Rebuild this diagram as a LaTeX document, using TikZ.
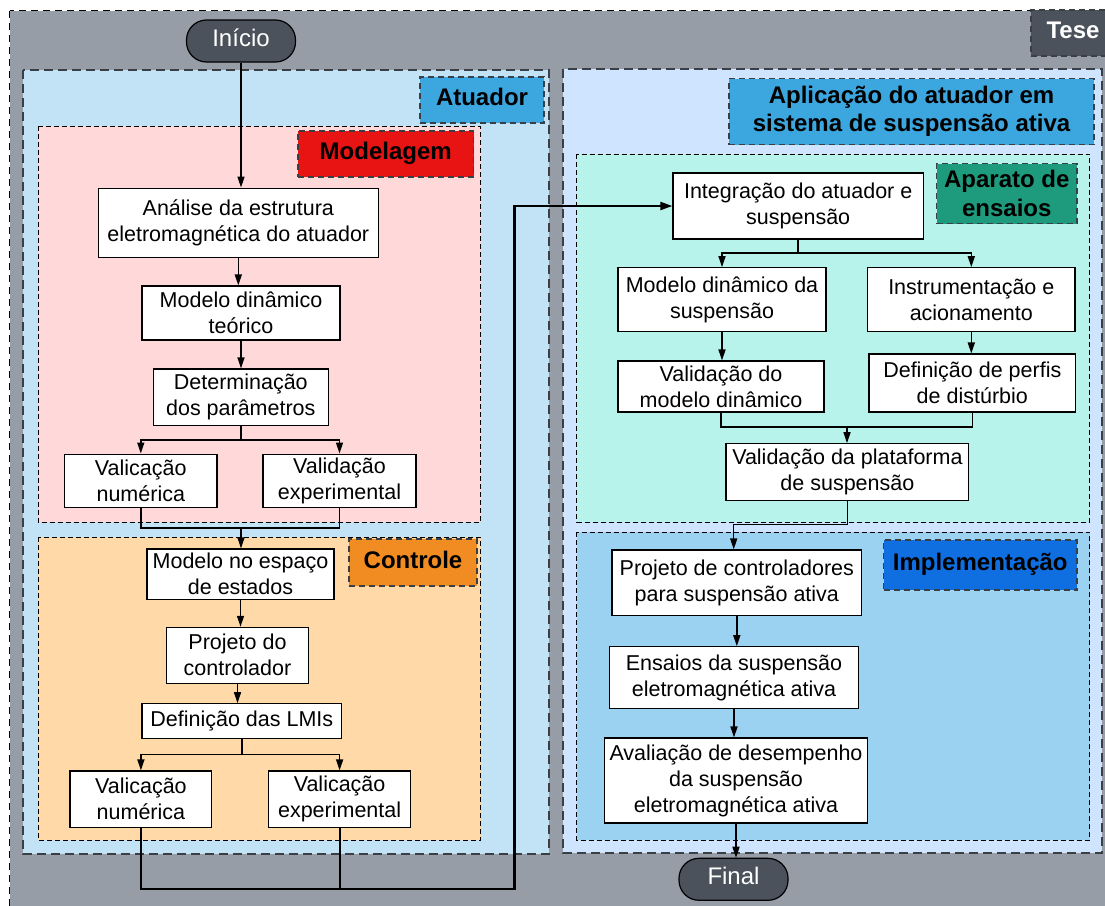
\documentclass[tikz,border=0pt]{standalone}
\usepackage{fontspec}
\setmainfont{Liberation Sans}
\usetikzlibrary{arrows.meta}

\definecolor{tesebg}{HTML}{979DA6}
\definecolor{darkpill}{HTML}{4B525C}
\definecolor{atuadorbg}{HTML}{C1E3F5}
\definecolor{bluelabel}{HTML}{3CA6DF}
\definecolor{modelbg}{HTML}{FFD9D9}
\definecolor{redlabel}{HTML}{E81313}
\definecolor{controlbg}{HTML}{FFDAA8}
\definecolor{orangelabel}{HTML}{F08C22}
\definecolor{aplicbg}{HTML}{CFE4FE}
\definecolor{aparatobg}{HTML}{B7F3EA}
\definecolor{teallabel}{HTML}{1E9A7C}
\definecolor{implbg}{HTML}{9BD2F2}
\definecolor{impllabel}{HTML}{0F6FE0}
\definecolor{dashgray}{HTML}{3A3F46}

\tikzset{
  regionouter/.style={draw=dashgray, line width=1.3pt, dash pattern=on 9pt off 5pt},
  regioninner/.style={draw=black, line width=0.9pt, dash pattern=on 5pt off 3pt},
  tag/.style={draw=dashgray, line width=1.1pt, dash pattern=on 6pt off 4pt,
    inner sep=0pt, align=center, font=\fontsize{24}{28.5}\selectfont\bfseries},
  oneline/.style={text height=16pt, text depth=5pt},
  stepbox/.style={draw=black, fill=white, line width=1.1pt, inner sep=0pt,
    align=center, font=\fontsize{21.5}{26}\selectfont},
  pill/.style={draw=black, fill=darkpill, line width=1.2pt, rounded corners=20pt,
    inner sep=0pt, text=white, font=\fontsize{24}{28}\selectfont,
    minimum width=109pt, minimum height=42pt, text height=15pt, text depth=5pt},
  arr/.style={line width=1.5pt, -{Triangle[length=11pt,width=7pt]}},
  ln/.style={line width=1.5pt},
}

\begin{document}
\begin{tikzpicture}[x=1pt,y=-1pt]
\useasboundingbox (0,0) rectangle (1105,905);
\fill[white] (0,0) rectangle (1105,905);
\begin{scope}
\clip (0,0) rectangle (1105,905);

% thesis frame
\draw[fill=tesebg, draw=black, line width=1pt, dash pattern=on 7pt off 5pt]
  (9.5,10.5) rectangle (1125,925);
\node[tag, oneline, fill=darkpill, text=white, minimum width=84pt, minimum height=46pt]
  (tese) at (1073,33) {Tese};

% actuator block
\draw[regionouter, fill=atuadorbg] (23,70) rectangle (549,854);
\node[tag, oneline, fill=bluelabel, minimum width=124pt, minimum height=46pt]
  (tagatu) at (482,100) {Atuador};
\draw[regioninner, fill=modelbg] (38,126) rectangle (480.5,522);
\node[tag, oneline, fill=redlabel, minimum width=175.5pt, minimum height=46pt]
  (tagmod) at (385.75,154) {Modelagem};
\draw[regioninner, fill=controlbg] (38,537) rectangle (480.5,840);
\node[tag, oneline, fill=orangelabel, minimum width=128pt, minimum height=47pt]
  (tagctl) at (413,562.5) {Controle};

% application block
\draw[regionouter, fill=aplicbg] (563,69) rectangle (1102,853);
\node[tag, fill=bluelabel, minimum width=365pt, minimum height=66pt]
  (tagapl) at (911.5,111.5) {Aplicação do atuador em\\sistema de suspensão ativa};
\draw[regioninner, fill=aparatobg] (576.5,154) rectangle (1089.5,522);
\node[tag, fill=teallabel, minimum width=140.5pt, minimum height=60pt]
  (tagapa) at (1006.75,193.5) {Aparato de\\ensaios};
\draw[regioninner, fill=implbg] (576.5,532) rectangle (1089.5,840);
\node[tag, oneline, fill=impllabel, minimum width=193.5pt, minimum height=50pt]
  (tagimp) at (980.25,565) {Implementação};

% start / end
\node[pill] (ini) at (241,41) {Início};
\node[pill] (fin) at (733.5,879.3) {Final};

% modelling steps
\node[stepbox, minimum width=280pt, minimum height=69pt] (ana) at (238.3,222.6)
  {Análise da estrutura\\eletromagnética do atuador};
\node[stepbox, minimum width=198pt, minimum height=54pt] (mdt) at (241,313)
  {Modelo dinâmico\\teórico};
\node[stepbox, minimum width=175pt, minimum height=56.7pt] (det) at (240.8,397.3)
  {Determinação\\dos parâmetros};
\node[stepbox, minimum width=152.4pt, minimum height=53.5pt] (vn1) at (140.8,480.8)
  {Valicação\\numérica};
\node[stepbox, minimum width=153pt, minimum height=53.5pt] (ve1) at (339.5,480.8)
  {Validação\\experimental};

% control steps
\node[stepbox, minimum width=187pt, minimum height=50.5pt] (mee) at (240.5,574.2)
  {Modelo no espaço\\de estados};
\node[stepbox, minimum width=141.6pt, minimum height=56pt] (pdc) at (237.5,655.3)
  {Projeto do\\controlador};
\node[stepbox, minimum width=199.7pt, minimum height=34.6pt] (lmi) at (241.8,721)
  {Definição das LMIs};
\node[stepbox, minimum width=141.8pt, minimum height=56.7pt] (vn2) at (140.9,799.3)
  {Valicação\\numérica};
\node[stepbox, minimum width=142.1pt, minimum height=56.7pt] (ve2) at (339.6,799.3)
  {Valicação\\experimental};

% test rig steps
\node[stepbox, minimum width=250.5pt, minimum height=66pt] (int) at (798.2,206)
  {Integração do atuador e\\suspensão};
\node[stepbox, minimum width=208pt, minimum height=64pt] (mds) at (722,299.7)
  {Modelo dinâmico da\\suspensão};
\node[stepbox, minimum width=207.3pt, minimum height=64pt] (ins) at (971.3,299.7)
  {Instrumentação e\\acionamento};
\node[stepbox, minimum width=206pt, minimum height=51pt] (vmd) at (721,386.5)
  {Validação do\\modelo dinâmico};
\node[stepbox, minimum width=206.7pt, minimum height=58pt] (dpd) at (972.3,383)
  {Definição de perfis\\de distúrbio};
\node[stepbox, minimum width=242.8pt, minimum height=57pt] (vps) at (847.4,472.2)
  {Validação da plataforma\\de suspensão};

% implementation steps
\node[stepbox, minimum width=249.7pt, minimum height=65.7pt] (pcs) at (736.8,582.8)
  {Projeto de controladores\\para suspensão ativa};
\node[stepbox, minimum width=249.4pt, minimum height=61.6pt] (esa) at (734,677.5)
  {Ensaios da suspensão\\eletromagnética ativa};
\node[stepbox, minimum width=263pt, minimum height=85pt] (ava) at (736,780.5)
  {Avaliação de desempenho\\da suspensão\\eletromagnética ativa};

% junction points
\coordinate (b1) at (241,440);
\coordinate (m1) at (241,528);
\coordinate (b2) at (242,754.3);
\coordinate (c1) at (514.5,889);
\coordinate (b3) at (798.7,253);
\coordinate (m2) at (847,427);
\coordinate (j1) at (733.7,524.7);

% connectors, actuator side
\draw[arr] (ini.south) -- (ini.south |- ana.north);
\draw[arr] (ana.south) -- (ana.south |- mdt.north);
\draw[arr] (mdt.south) -- (mdt.south |- det.north);
\draw[ln] (det.south) -- (det.south |- b1);
\draw[arr] (det.south |- b1) -| (vn1.north);
\draw[arr] (det.south |- b1) -| (ve1.north);
\draw[ln] (vn1.south) |- (m1) -| (ve1.south);
\draw[arr] (m1) -- (m1 |- mee.north);
\draw[arr] (mee.south) -- (mee.south |- pdc.north);
\draw[arr] (pdc.south) -- (pdc.south |- lmi.north);
\draw[ln] (lmi.south) -- (lmi.south |- b2);
\draw[arr] (lmi.south |- b2) -| (vn2.north);
\draw[arr] (lmi.south |- b2) -| (ve2.north);

% link between the two blocks
\draw[line width=2.2pt, -{Triangle[length=12pt,width=8pt]}]
  (vn2.south) |- (c1) |- (int.west);
\draw[line width=2.2pt] (ve2.south) -- (ve2.south |- c1);

% connectors, application side
\draw[ln] (int.south) -- (int.south |- b3);
\draw[arr] (int.south |- b3) -| (mds.north);
\draw[arr] (int.south |- b3) -| (ins.north);
\draw[arr] (mds.south) -- (mds.south |- vmd.north);
\draw[arr] (ins.south) -- (ins.south |- dpd.north);
\draw[ln] (vmd.south) |- (m2) -| (dpd.south);
\draw[arr] (m2) -- (m2 |- vps.north);
\draw[arr] (vps.south) |- (j1) -- (j1 |- pcs.north);
\draw[arr] (pcs.south) -- (pcs.south |- esa.north);
\draw[arr] (esa.south) -- (esa.south |- ava.north);
\draw[arr] (ava.south) -- (ava.south |- fin.north);
\end{scope}
\end{tikzpicture}
\end{document}
